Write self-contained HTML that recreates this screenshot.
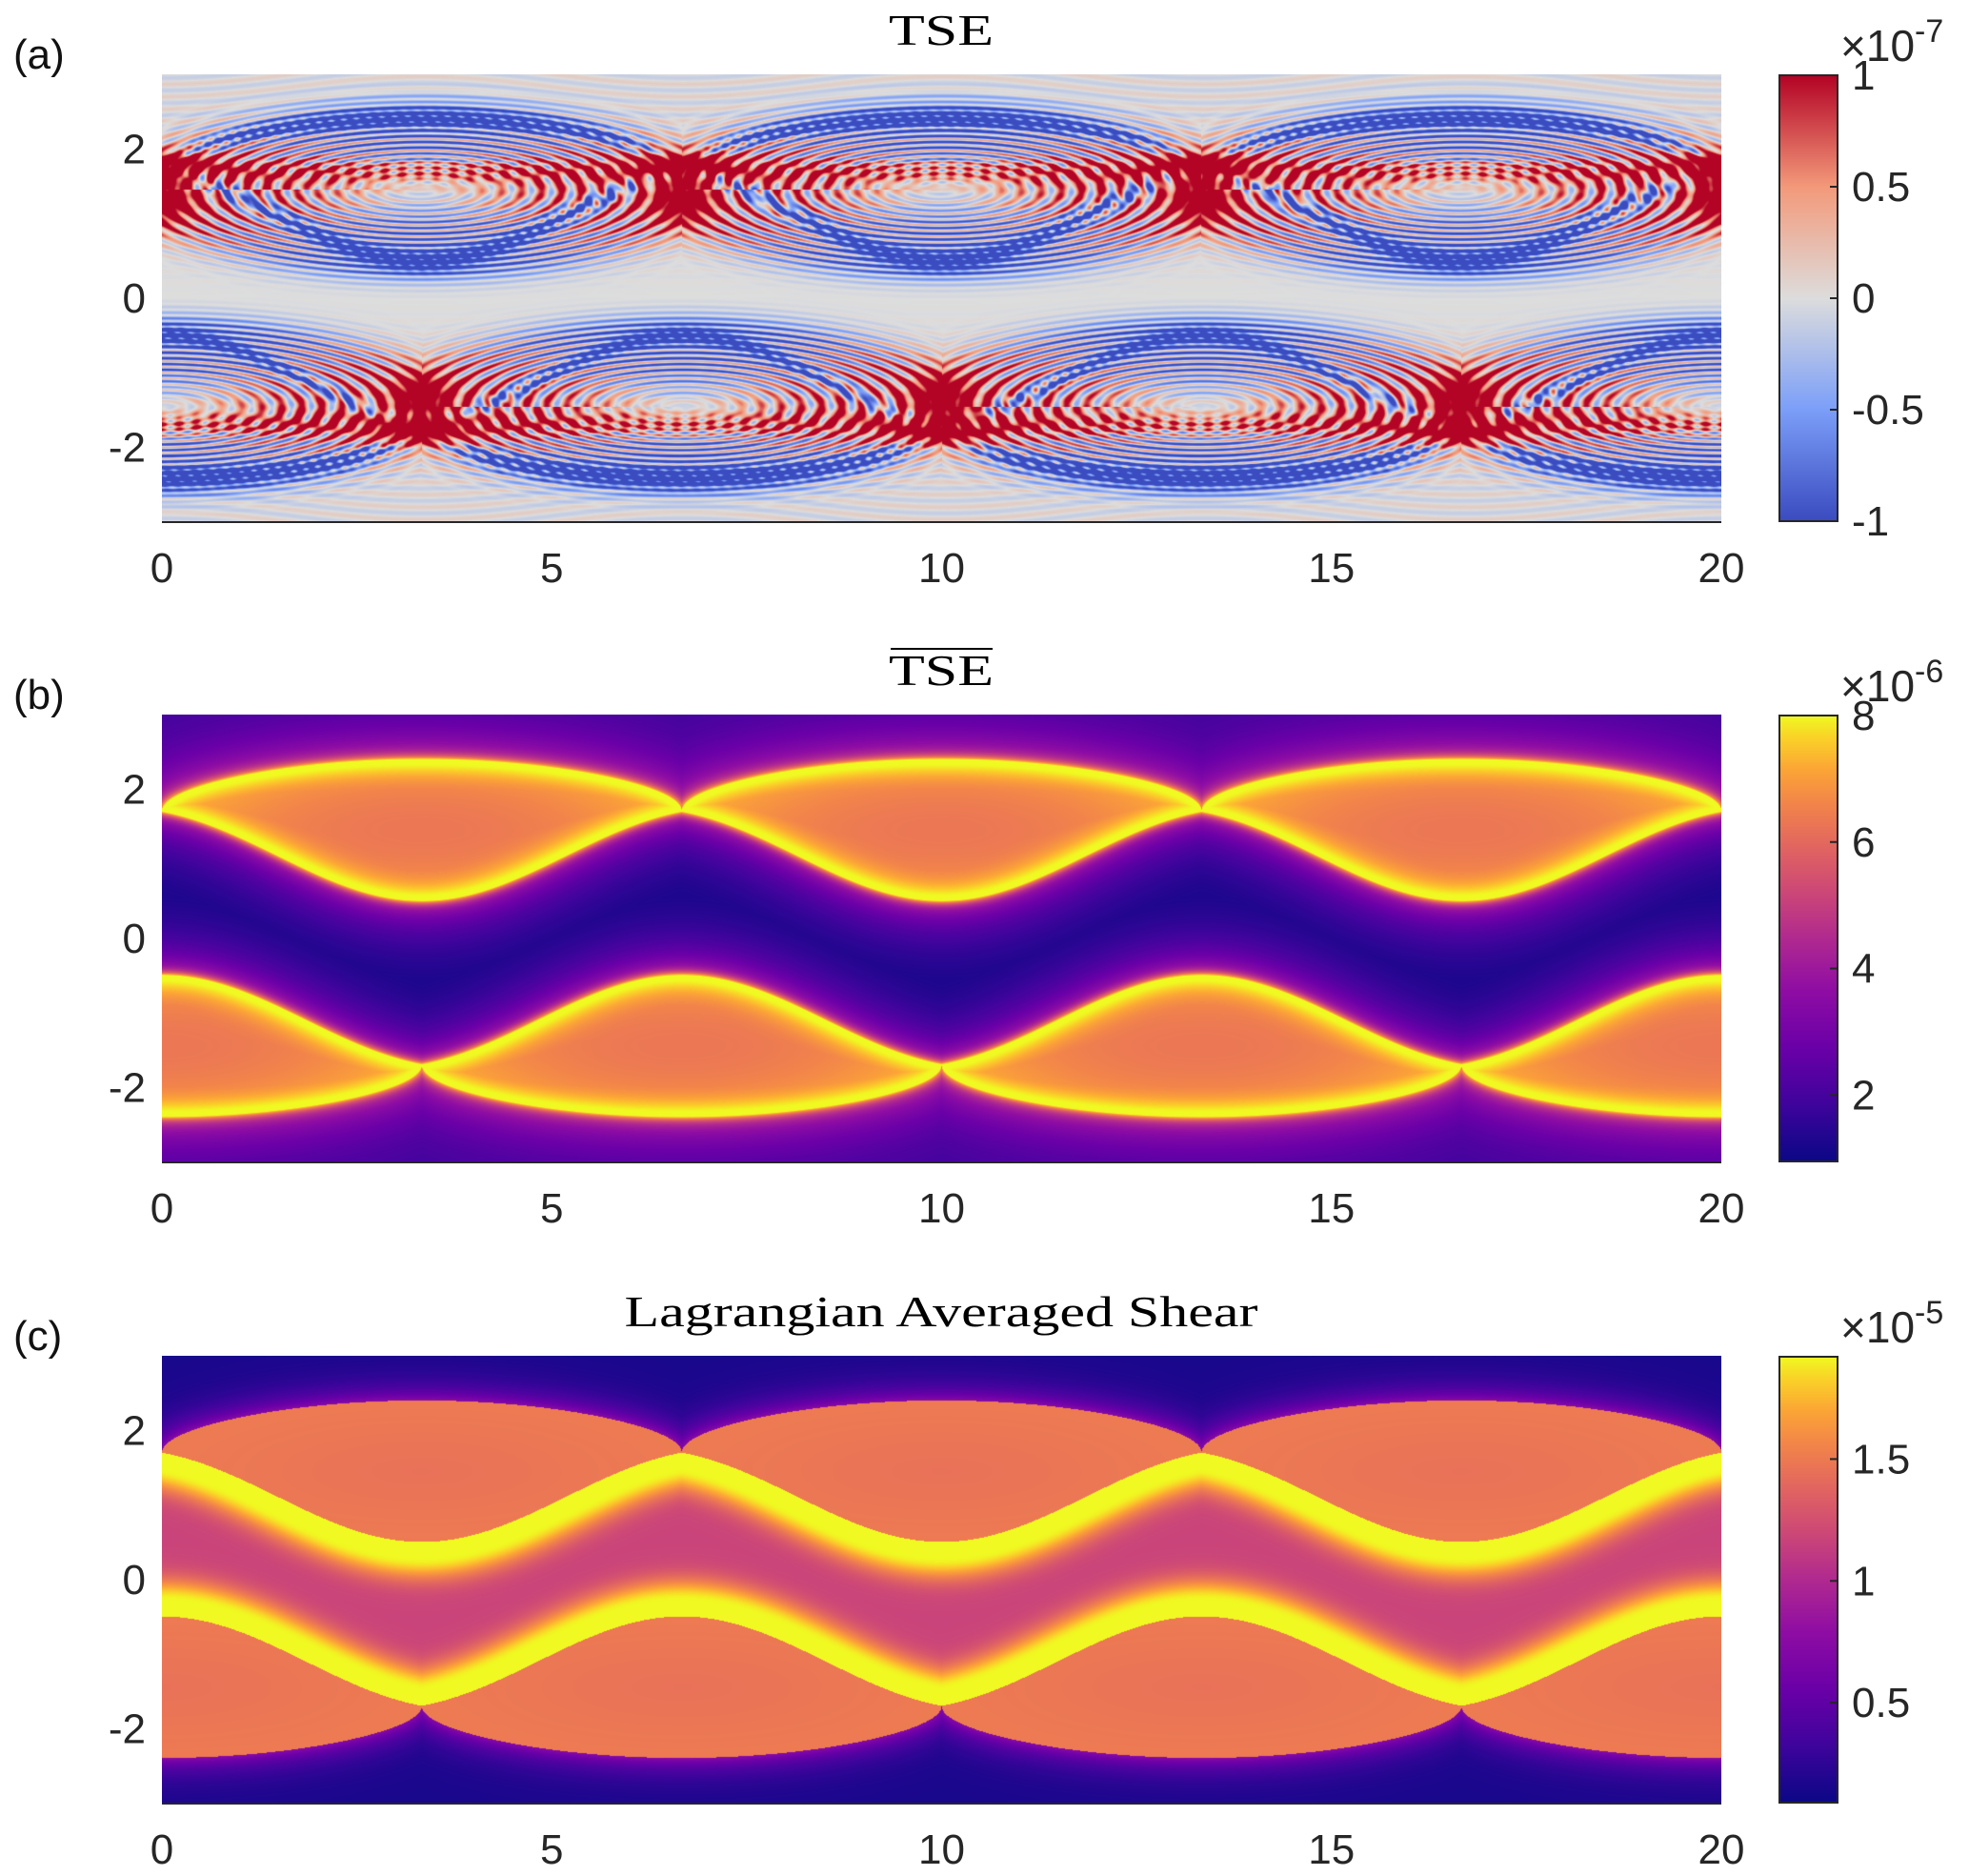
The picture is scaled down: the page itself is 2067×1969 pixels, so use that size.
<!DOCTYPE html>
<html><head><meta charset="utf-8">
<style>
html,body{margin:0;padding:0;background:#fff;}
#root{position:relative;width:2067px;height:1969px;overflow:hidden;background:#fff;}
canvas{position:absolute;}
svg{position:absolute;left:0;top:0;}
</style></head>
<body>
<div id="root">
<canvas id="hmA" style="left:170px;top:78px" width="1637" height="470"></canvas>
<canvas id="hmB" style="left:170px;top:750px" width="1637" height="469"></canvas>
<canvas id="hmC" style="left:170px;top:1423px" width="1637" height="469"></canvas>
<canvas id="cbA" style="left:1868px;top:79px" width="61" height="468"></canvas>
<canvas id="cbB" style="left:1868px;top:751px" width="61" height="467"></canvas>
<canvas id="cbC" style="left:1868px;top:1424px" width="61" height="467"></canvas>
<svg id="ov" width="2067" height="1969"></svg>
</div>
<script>
// ---- data ----
const xTickVals = [0,5,10,15,20];
const yTickVals = [-2,0,2];
const xRange = [0,20];
const yRange = [-3,3];
const cbTicksA = [-1,-0.5,0,0.5,1];
const cbLabelsA = ["-1","-0.5","0","0.5","1"];
const cbRangeA = [-1,1];
const cbTicksB = [2,4,6,8];
const cbLabelsB = ["2","4","6","8"];
const cbRangeB = [0.95,8];
const cbTicksC = [0.5,1,1.5];
const cbLabelsC = ["0.5","1","1.5"];
const cbRangeC = [0.09,1.92];
const titles = ["TSE","TSE","Lagrangian Averaged Shear"];
const panelLabels = ["(a)","(b)","(c)"];
const exponents = ["-7","-6","-5"];
const period = 6.667;
const sepY = 1.7;
const lobeTopAmp = 0.7;
const lobeBotAmp = 1.2;

// ---- geometry ----
const PX=170, PW=1637, PH=470;
const panelTops=[78,750,1423];
const cbX=1868, cbW=61;
function sx(v){return PX+(v-xRange[0])/(xRange[1]-xRange[0])*PW;}
function syF(top){return v=>top+(yRange[1]-v)/(yRange[1]-yRange[0])*PH;}

function botShape(s){return 0.35*s+0.65*s*s;}
function lobe(x){
  let p=x/period, f=p-Math.floor(p), s=Math.sin(Math.PI*f);
  let uT=sepY+lobeTopAmp*Math.pow(s,0.5), uB=sepY-lobeBotAmp*botShape(s);
  let uxc=(Math.floor(p)+0.5)*period;
  let p2=(x+period/2)/period, f2=p2-Math.floor(p2), s2=Math.sin(Math.PI*f2);
  let lT=-sepY+lobeBotAmp*botShape(s2), lB=-sepY-lobeTopAmp*Math.pow(s2,0.5);
  let lxc=(Math.floor(p2)+0.5)*period-period/2;
  return {uT,uB,lT,lB,uxc,lxc};
}
function lerpStops(stops,t){
  t=Math.max(0,Math.min(1,t));
  for(let i=1;i<stops.length;i++){ if(t<=stops[i][0]){const a=stops[i-1],b=stops[i];const u=(t-a[0])/(b[0]-a[0]||1);
    return [a[1]+(b[1]-a[1])*u,a[2]+(b[2]-a[2])*u,a[3]+(b[3]-a[3])*u];}}
  const l=stops[stops.length-1];return [l[1],l[2],l[3]];
}
const plasma=[[0,13,8,135],[0.13,65,4,157],[0.25,106,0,168],[0.38,143,13,164],[0.5,177,42,144],[0.6,204,71,120],[0.7,225,100,98],[0.8,242,132,75],[0.88,252,166,54],[0.95,250,210,40],[1,240,249,33]];
const coolwarm=[[0,59,76,192],[0.25,124,159,249],[0.5,221,221,221],[0.75,244,154,123],[1,180,4,38]];

function buildCols(W){
  const cols={uT:new Float32Array(W),uB:new Float32Array(W),lT:new Float32Array(W),lB:new Float32Array(W)};
  for(let i=0;i<W;i++){const x=xRange[0]+(i+0.5)/W*(xRange[1]-xRange[0]);const g=lobe(x);
    cols.uT[i]=g.uT;cols.uB[i]=g.uB;cols.lT[i]=g.lT;cols.lB[i]=g.lB;}
  return cols;
}
function curveDist(arr,i,y,W){
  const ux=(xRange[1]-xRange[0])/W;let best=Math.abs(y-arr[i]);
  for(let k=-70;k<=70;k+=2){const j=i+k;if(j<0||j>=W)continue;const dx=k*ux;if(Math.abs(dx)>=best)continue;
    const dy=y-arr[j];const d=Math.sqrt(dx*dx+dy*dy);if(d<best)best=d;}
  return best;
}
function drawField(id,fn,cmap,range){
  const c=document.getElementById(id),ctx=c.getContext('2d');
  const W=c.width,H=c.height,img=ctx.createImageData(W,H);
  const cols=buildCols(W);
  for(let j=0;j<H;j++){const y=yRange[1]-(j+0.5)/H*(yRange[1]-yRange[0]);
    for(let i=0;i<W;i++){const x=xRange[0]+(i+0.5)/W*(xRange[1]-xRange[0]);
      const v=fn(x,y,i,cols,W);const col=lerpStops(cmap,(v-range[0])/(range[1]-range[0]));
      const k=(j*W+i)*4;img.data[k]=col[0];img.data[k+1]=col[1];img.data[k+2]=col[2];img.data[k+3]=255;}}
  ctx.putImageData(img,0,0);
}
function drawBar(id,cmap){
  const c=document.getElementById(id),ctx=c.getContext('2d');
  for(let j=0;j<c.height;j++){const col=lerpStops(cmap,1-j/(c.height-1));
    ctx.fillStyle=`rgb(${col[0]|0},${col[1]|0},${col[2]|0})`;ctx.fillRect(0,j,c.width,1);}
}
function region(y,i,c){
  if(y>c.uT[i])return 0; if(y>=c.uB[i])return 1; if(y>c.lT[i])return 2; if(y>=c.lB[i])return 3; return 4;
}
function lobeR(x,y,i,c,up){
  const g=lobe(x);const xc=up?g.uxc:g.lxc;const yc=up?1.45:-1.45;
  const rx=(x-xc)/(period/2), ry=(y-yc)/0.95;return Math.min(1,Math.sqrt(rx*rx+ry*ry));
}
function lobeEdge(y,i,c,up,W){
  const T=up?c.uT:c.lT,B=up?c.uB:c.lB;
  return Math.min(curveDist(T,i,y,W),curveDist(B,i,y,W));
}
// field B
function fB(x,y,i,c,W){
  const r=region(y,i,c);
  if(r===1||r===3){const up=r===1;const d=lobeEdge(y,i,c,up,W);
    const rr=lobeR(x,y,i,c,up);
    const e=Math.exp(-Math.pow(Math.max(0,d-0.07)/0.22,1.3));
    return 6.3+1.7*Math.max(e,Math.pow(rr,2.2)*0.6);}
  let dist,base;
  if(r===0){dist=curveDist(c.uT,i,y,W);base=1.75;}
  else if(r===4){dist=curveDist(c.lB,i,y,W);base=1.75;}
  else {dist=Math.min(curveDist(c.uB,i,y,W),curveDist(c.lT,i,y,W));base=1.0;}
  return base+(8-base)*(0.5*Math.exp(-dist/0.05)+0.5*Math.exp(-dist/0.4));
}
// field C
function fC(x,y,i,c,W){
  const r=region(y,i,c);
  if(r===1||r===3){const rr=lobeR(x,y,i,c,r===1);return 1.45+0.05*rr;}
  if(r===2){const d=Math.min(curveDist(c.uB,i,y,W),curveDist(c.lT,i,y,W));
    return 1.17+0.75*Math.exp(-Math.pow(Math.max(0,d-0.22)/0.3,2));}
  const d=r===0?curveDist(c.uT,i,y,W):curveDist(c.lB,i,y,W);
  return 0.14+0.6*Math.exp(-d/0.2);
}
// field A
function fA(x,y,i,c,W){
  const g=lobe(x);
  let v=0;
  const up=y>0;
  const xc=up?g.uxc:g.lxc, yc=up?1.45:-1.45;
  const rx=(x-xc)/(period/2), ry=(y-yc)/1.0;
  const r=Math.sqrt(rx*rx+ry*ry);
  const th=Math.atan2(ry,rx);
  const ripple=Math.cos(2*Math.PI*r*13+th*0.5);
  const bias=Math.cos(2*th);
  const amp=Math.exp(-Math.pow(Math.max(0,r-0.95)/0.25,2));
  v+=amp*(0.8*ripple*Math.min(1,r*1.8)+bias*0.75*Math.min(r,1.1));
  const T=up?c.uT:c.lT, B=up?c.uB:c.lB;
  const pin=Math.abs(Math.sin(Math.PI*(x-(up?0:period/2))/period));
  const dash=0.5+0.5*Math.cos(x*37+y*23);
  const dB=Math.abs(y-B[i]), dT=Math.abs(y-T[i]);
  v-=1.5*Math.exp(-Math.pow(dB/0.12,2))*Math.min(1,pin*2.5)*(0.4+0.8*dash);
  v-=1.3*Math.exp(-Math.pow(dT/0.1,2))*Math.min(1,pin*2.5)*(0.4+0.8*dash);
  const sy=up?sepY:-sepY;
  v+=1.0*Math.exp(-Math.pow((y-sy)/0.14,2))*(0.7+0.5*Math.cos(2*Math.PI*x/0.22));
  const pc=up?Math.round(x/period)*period:Math.round((x-period/2)/period)*period+period/2;
  const dy=up?-0.4:0.4;
  v+=1.4*Math.exp(-Math.pow((x-pc)/0.38,2)-Math.pow((y-(sy+dy))/0.3,2));
  v+=1.3*Math.exp(-Math.pow((x-pc)/0.6,2)-Math.pow((y-(sy-dy*0.3))/0.13,2));
  v+=0.12*Math.min(1,Math.abs(y)/1.5)*Math.cos(2*Math.PI*(Math.abs(y)*6+Math.cos(x*0.94)*0.8));
  return Math.max(-1,Math.min(1,v));
}

drawField('hmA',fA,coolwarm,cbRangeA);
drawField('hmB',fB,plasma,cbRangeB);
drawField('hmC',fC,plasma,cbRangeC);
drawBar('cbA',coolwarm);drawBar('cbB',plasma);drawBar('cbC',plasma);

// ---- annotations ----
const NS='http://www.w3.org/2000/svg';
const ov=document.getElementById('ov');
function mk(tag,attrs,txt){const e=document.createElementNS(NS,tag);for(const k in attrs)e.setAttribute(k,attrs[k]);if(txt!==undefined)e.textContent=txt;ov.appendChild(e);return e;}
const cbRanges=[cbRangeA,cbRangeB,cbRangeC],cbTicks=[cbTicksA,cbTicksB,cbTicksC],cbLabels=[cbLabelsA,cbLabelsB,cbLabelsC];
const titleY=[47,719,1392];
for(let p=0;p<3;p++){
  const top=panelTops[p],sy=syF(top);
  const axl=mk('line',{x1:PX,x2:PX+PW,y1:top+PH,y2:top+PH,stroke:'#262626','stroke-width':2});
  
  xTickVals.forEach(v=>{const t=mk('text',{x:sx(v),y:top+PH+63,'text-anchor':'middle','font-family':'Liberation Sans, sans-serif','font-size':44,fill:'#262626'},String(v));
    });
  yTickVals.forEach(v=>{const t=mk('text',{x:153,y:sy(v)+15,'text-anchor':'end','font-family':'Liberation Sans, sans-serif','font-size':44,fill:'#262626'},String(v));
    });
  const tw=p===2?665:110;
  const tt=mk('text',{x:988,y:titleY[p],'text-anchor':'middle','font-family':'Liberation Serif, serif','font-size':46,fill:'#000',textLength:tw,lengthAdjust:'spacingAndGlyphs'},titles[p]);
  
  if(p===1){const ol=mk('line',{x1:935,x2:1042,y1:titleY[p]-38,y2:titleY[p]-38,stroke:'#000','stroke-width':2});
    }
  const pl=mk('text',{x:14,y:top-6,'font-family':'Liberation Sans, sans-serif','font-size':44,fill:'#111'},panelLabels[p]);
  
  const cbTop=top+1,cbH=PH-2,rg=cbRanges[p];
  const cbs=v=>cbTop+(rg[1]-v)/(rg[1]-rg[0])*cbH;
  const bx=mk('rect',{x:cbX,y:cbTop,width:cbW,height:cbH,fill:'none',stroke:'#262626','stroke-width':2});
  
  cbTicks[p].forEach((v,i)=>{const y=cbs(v);
    mk('line',{x1:cbX+cbW-8,x2:cbX+cbW,y1:y,y2:y,stroke:'#262626','stroke-width':2});
    const t=mk('text',{x:1944,y:y+15,'font-family':'Liberation Sans, sans-serif','font-size':44,fill:'#262626'},cbLabels[p][i]);
    });
  const ex=mk('text',{x:1932,y:top-14,'font-family':'Liberation Sans, sans-serif','font-size':46,fill:'#262626'});
  
  const s1=document.createElementNS(NS,'tspan');s1.textContent='×10';ex.appendChild(s1);
  const s2=document.createElementNS(NS,'tspan');s2.setAttribute('dy','-20');s2.setAttribute('font-size','34');s2.textContent=exponents[p];ex.appendChild(s2);
}
</script>
</body></html>
